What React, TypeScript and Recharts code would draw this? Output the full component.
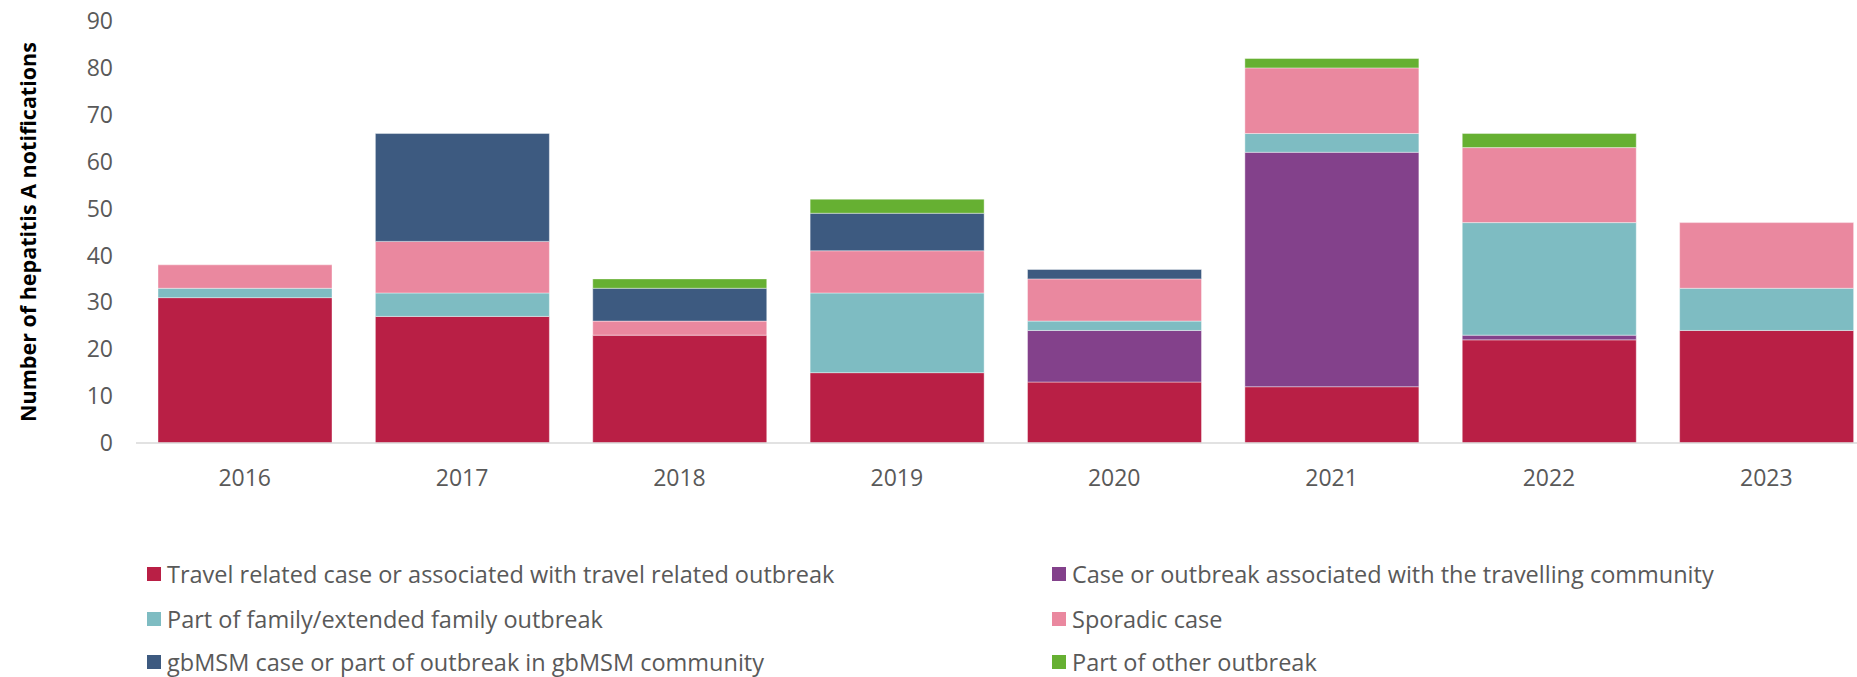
import React from 'react';
import { BarChart, Bar, XAxis, YAxis, Legend, Label } from 'recharts';

const years = ['2016', '2017', '2018', '2019', '2020', '2021', '2022', '2023'];
const travelRelated = [31, 27, 23, 15, 13, 12, 22, 24];
const travellingCommunity = [0, 0, 0, 0, 11, 50, 1, 0];
const familyOutbreak = [2, 5, 0, 17, 2, 4, 24, 9];
const sporadic = [5, 11, 3, 9, 9, 14, 16, 14];
const gbmsm = [0, 23, 7, 8, 2, 0, 0, 0];
const otherOutbreak = [0, 0, 2, 3, 0, 2, 3, 0];

const yTicks = [0, 10, 20, 30, 40, 50, 60, 70, 80, 90];

const series = [
  { key: 'travel', name: 'Travel related case or associated with travel related outbreak', color: '#B91F45', values: travelRelated },
  { key: 'community', name: 'Case or outbreak associated with the travelling community', color: '#83418B', values: travellingCommunity },
  { key: 'family', name: 'Part of family/extended family outbreak', color: '#7EBCC2', values: familyOutbreak },
  { key: 'sporadic', name: 'Sporadic case', color: '#EA889F', values: sporadic },
  { key: 'gbmsm', name: 'gbMSM case or part of outbreak in gbMSM community', color: '#3D5A80', values: gbmsm },
  { key: 'other', name: 'Part of other outbreak', color: '#66B032', values: otherOutbreak },
];

const data = years.map((year, i) => {
  const row: Record<string, string | number> = { year };
  series.forEach((s) => {
    row[s.key] = s.values[i];
  });
  return row;
});

const FONT = '"Open Sans", sans-serif';
const GREY = '#595959';
const rowTops = [1, 46, 89];

const LegendGrid = () => (
  <div style={{ position: 'relative', width: 1857, height: 124, fontFamily: FONT, fontSize: 23.5, color: GREY }}>
    {series.map((s, i) => (
      <div
        key={s.key}
        style={{
          position: 'absolute',
          left: i % 2 === 0 ? 147 : 1052,
          top: rowTops[Math.floor(i / 2)],
          height: 40,
          display: 'flex',
          alignItems: 'center',
          whiteSpace: 'nowrap',
          lineHeight: '26px',
        }}
      >
        <span style={{ display: 'inline-block', width: 14, height: 14, background: s.color, marginRight: 6 }} />
        <span>{s.name}</span>
      </div>
    ))}
  </div>
);

const App = () => {
  return (
    <div style={{ position: 'absolute', left: 0, top: 0, width: 1857, height: 677, overflow: 'hidden', background: '#fff' }}>
      <BarChart width={1875} height={677} data={data} margin={{ top: 21, right: 0, left: 0, bottom: 0 }}>
        <XAxis
          dataKey="year"
          axisLine={{ stroke: '#D9D9D9', strokeWidth: 1.5 }}
          tickLine={false}
          tickSize={0}
          tickMargin={27}
          height={110}
          tick={{ fill: GREY, fontSize: 23, fontFamily: FONT }}
        />
        <YAxis
          width={136}
          domain={[0, 90]}
          ticks={yTicks}
          axisLine={false}
          tickLine={false}
          tickSize={0}
          tickMargin={23}
          tick={{ fill: GREY, fontSize: 23, fontFamily: FONT }}
        >
          <Label
            content={({ viewBox }: any) => {
              const cy = viewBox.y + viewBox.height / 2;
              return (
                <text
                  x={27}
                  y={cy}
                  transform={`rotate(-90, 27, ${cy})`}
                  textAnchor="middle"
                  dominantBaseline="central"
                  fontFamily={FONT}
                  fontWeight="bold"
                  fontSize={21.5}
                  fill="#000"
                >
                  Number of hepatitis A notifications
                </text>
              );
            }}
          />
        </YAxis>
        <Legend verticalAlign="bottom" align="left" wrapperStyle={{ left: 0 }} content={() => <LegendGrid />} />
        {series.map((s) => (
          <Bar
            key={s.key}
            dataKey={s.key}
            name={s.name}
            stackId="a"
            fill={s.color}
            barSize={174}
            stroke="#ffffff"
            strokeOpacity={0.4}
            strokeWidth={1}
            isAnimationActive={false}
          />
        ))}
      </BarChart>
    </div>
  );
};

export default App;
